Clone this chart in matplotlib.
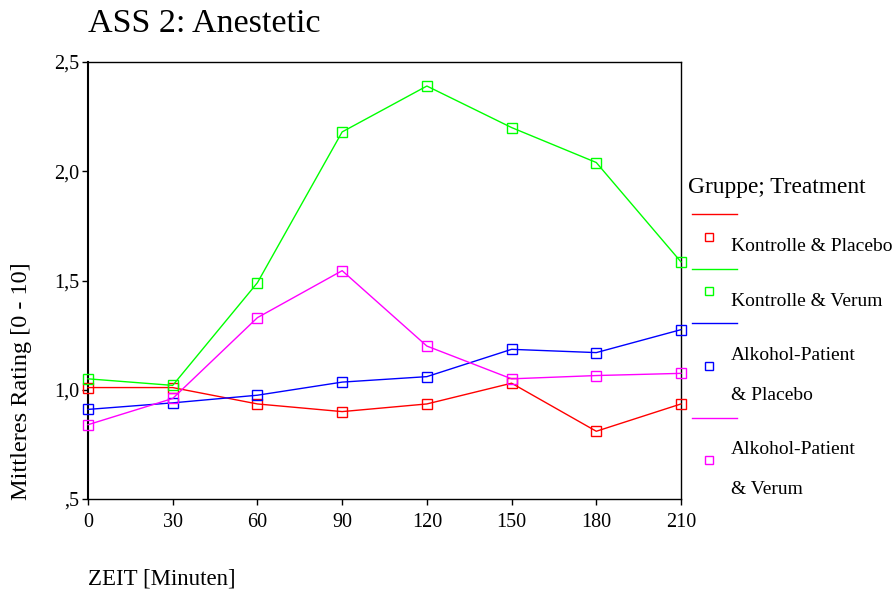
import matplotlib
matplotlib.use("Agg")
import matplotlib.pyplot as plt
from matplotlib.lines import Line2D

plt.rcParams['font.family'] = ['Liberation Serif', 'DejaVu Serif']

# data
zeit = [0, 30, 60, 90, 120, 150, 180, 210]
kontrolle_placebo = [1.01, 1.01, 0.935, 0.90, 0.935, 1.03, 0.81, 0.935]
kontrolle_verum = [1.05, 1.02, 1.49, 2.18, 2.39, 2.20, 2.04, 1.585]
alkohol_placebo = [0.91, 0.94, 0.975, 1.035, 1.06, 1.185, 1.17, 1.275]
alkohol_verum = [0.84, 0.96, 1.33, 1.545, 1.20, 1.05, 1.065, 1.075]

labels = [["Kontrolle & Placebo"], ["Kontrolle & Verum"],
          ["Alkohol-Patient", "& Placebo"], ["Alkohol-Patient", "& Verum"]]
series = [kontrolle_placebo, kontrolle_verum, alkohol_placebo, alkohol_verum]
colors = ["#ff0000", "#00ff00", "#0000ff", "#ff00ff"]
ytick_labels = [",5", "1,0", "1,5", "2,0", "2,5"]

W, H = 892, 590
fig = plt.figure(figsize=(W / 100, H / 100), dpi=100)
ax = fig.add_axes([88 / W, 1 - 499 / H, (681 - 88) / W, (499 - 62) / H])

for ys, c in zip(series, colors):
    ax.plot(zeit, ys, color=c, lw=1.0, marker="s", ms=7.5, mfc="none",
            mec=c, mew=1.0, clip_on=False, zorder=3)

ax.set_xlim(0, 210)
ax.set_ylim(0.5, 2.5)
ax.set_xticks(zeit)
ax.set_yticks([0.5, 1.0, 1.5, 2.0, 2.5])
ax.set_yticklabels(ytick_labels)
ax.tick_params(labelsize=14.5, length=4, width=1, direction="out")
ax.tick_params(axis="x", pad=6)
ax.tick_params(axis="y", pad=2)
for s in ax.spines.values():
    s.set_linewidth(1.0)
ax.spines["left"].set_linewidth(1.5)


def fx(x):
    return x / W


def fy(y):
    return 1 - y / H


fig.text(fx(22), fy(381), "Mittleres Rating [0 - 10]", fontsize=17.5,
         rotation=90, va="center", ha="center")
fig.text(fx(88), fy(579), "ZEIT [Minuten]", fontsize=16.5, va="center", ha="left")
fig.text(fx(88), fy(24), "ASS 2: Anestetic", fontsize=24.5, va="center", ha="left")

# SPSS style legend, drawn by hand
fig.text(fx(688), fy(187), "Gruppe; Treatment", fontsize=16.8, va="center", ha="left")
line_y = [214, 269, 323, 418]
mark_y = [237, 291, 366, 460]
text_y = [[247], [302], [356, 395], [449, 489]]
for i, c in enumerate(colors):
    fig.add_artist(Line2D([fx(692), fx(737)], [fy(line_y[i]), fy(line_y[i])],
                          color=c, lw=1.0, transform=fig.transFigure))
    fig.add_artist(Line2D([fx(709)], [fy(mark_y[i])], marker="s", ms=6,
                          mfc="none", mec=c, mew=1.0, transform=fig.transFigure))
    for t, ty in zip(labels[i], text_y[i]):
        fig.text(fx(731), fy(ty), t, fontsize=14, va="center", ha="left")

fig.savefig("out.png", dpi=100)
